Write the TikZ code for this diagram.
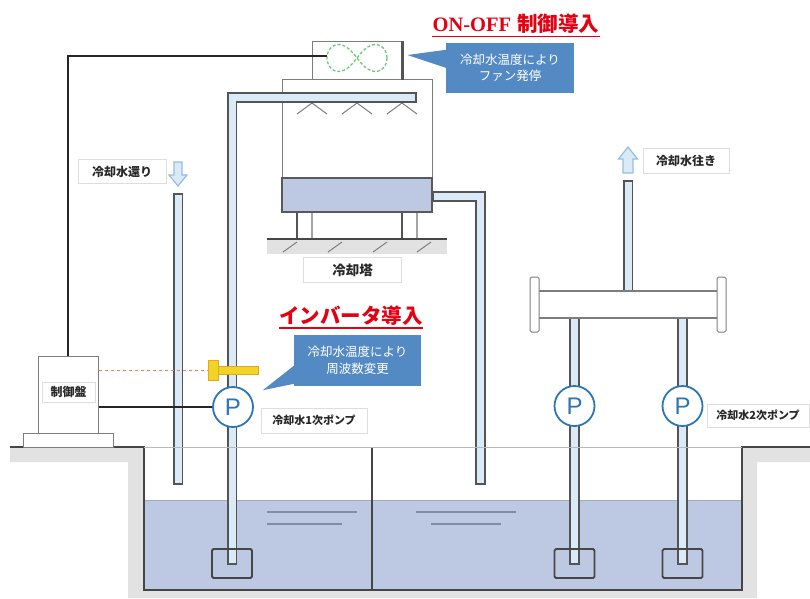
\documentclass[tikz,border=0pt]{standalone}
\usepackage{fontspec}
\usetikzlibrary{calc}

\newfontfamily\jp{Noto Sans CJK JP}
\newfontfamily\lat{Liberation Serif}
\newfontfamily\pfont{Liberation Sans}

\definecolor{pipeedge}{RGB}{84,84,84}
\definecolor{pipefill}{RGB}{218,234,246}
\definecolor{water}{RGB}{189,201,226}
\definecolor{ground}{RGB}{226,226,226}
\definecolor{wall}{RGB}{70,70,70}
\definecolor{linegray}{RGB}{125,125,125}
\definecolor{callout}{RGB}{84,138,196}
\definecolor{pumpblue}{RGB}{46,117,182}
\definecolor{titlered}{RGB}{228,0,18}
\definecolor{tagedge}{RGB}{222,222,222}
\definecolor{tagtext}{RGB}{40,40,40}
\definecolor{fangreen}{RGB}{110,200,125}
\definecolor{sensor}{RGB}{242,212,40}
\definecolor{sensoredge}{RGB}{232,168,20}
\definecolor{signal}{RGB}{238,130,90}
\definecolor{arrowedge}{RGB}{150,190,225}
\definecolor{ripple}{RGB}{128,140,165}

\tikzset{
  pipe/.style={draw=pipeedge, line width=10.5pt, line join=miter,
    postaction={draw=pipefill, line width=7pt, shorten <=1.6pt, shorten >=1.6pt}},
  strainer/.style={draw=wall, line width=1.8pt, rounded corners=1.5pt},
  pump/.style={circle, draw=pumpblue, fill=white, line width=1.8pt, minimum size=40pt,
    inner sep=0pt, text=pumpblue, font=\pfont\fontsize{24}{24}\selectfont},
  tag/.style={draw=tagedge, fill=white, line width=1pt, inner sep=0pt, text=tagtext,
    font=\jp\bfseries\fontsize{12}{14}\selectfont},
  note/.style={fill=callout, text=white, inner sep=0pt, align=center,
    font=\jp\fontsize{12.5}{16.5}\selectfont},
  title/.style={text=titlered, inner sep=0pt},
  outline/.style={draw=linegray, fill=white, line width=1pt},
  ctrl/.style={draw=black!85, line width=1.2pt},
  flow/.style={fill=pipefill, draw=arrowedge, line width=1.2pt, line join=miter},
}

\begin{document}
\begin{tikzpicture}[x=1pt, y=-1pt]
\useasboundingbox (0,0) rectangle (810,598);

% ground, tank and water
\fill[ground] (10,447) -- (144,447) -- (144,590) -- (742,590) -- (742,447) -- (810,447)
  -- (810,462) -- (757,462) -- (757,598) -- (128,598) -- (128,462) -- (10,462) -- cycle;
\fill[water] (144,500) rectangle (742,590);
\draw[water!85!black, line width=0.8pt] (144,500) -- (742,500);
\draw[wall, line width=2pt] (10,447) -- (144,447) -- (144,590) -- (742,590) -- (742,447) -- (810,447);
\draw[wall, line width=1.3pt] (372,447) -- (372,590);
\draw[ripple, line width=2pt] (267,512) -- (357,512) (267,524) -- (342,524);
\draw[ripple, line width=2pt] (416,512) -- (516,512) (431,524) -- (501,524);

% cooling tower
\draw[pipeedge, line width=1.5pt] (297,212) -- (297,239);
\draw[linegray!70, line width=1.2pt] (312,212) -- (312,239);
\draw[pipeedge, line width=2.5pt] (402,212) -- (402,239);
\draw[linegray!70, line width=1.2pt] (417,212) -- (417,239);
\fill[ground] (267,239) rectangle (447,254);
\draw[wall, line width=2pt] (267,239) -- (447,239);
\foreach \h in {283,328,373,417}
  \draw[linegray, line width=1pt] (\h,252) -- (\h+14,242);
\node[outline, minimum width=150pt, minimum height=133pt, inner sep=0pt] (tower) at (357,145.5) {};
\draw[fill=water, draw=wall!90, line width=1.5pt] (282,178) rectangle (432,212);
\foreach \n in {312,357,402}
  \draw[linegray, line width=1pt] (\n-15,114) -- (\n,103) -- (\n+15,114);
\node[outline, minimum width=90pt, minimum height=38pt, inner sep=0pt] (fanbox) at (357,60) {};
\draw[pipeedge, line width=2.5pt] (fanbox.north east) -- (fanbox.south east);
\draw[fangreen, line width=1.3pt, densely dashed]
  plot[domain=0:360, samples=90, smooth] ({357+30*cos(\x)/(1+pow(sin(\x),2))}, {58+38*sin(\x)*cos(\x)/(1+pow(sin(\x),2))});
\coordinate (fanL) at (327,56);

% pipes
\draw[pipe] (178,193) -- (178,485);
\draw[pipe] (432,196.5) -- (480.5,196.5) -- (480.5,485);
\draw[pipe] (232,565) -- (232,97.5) -- (417,97.5);
\draw[pipe] (628,180) -- (628,294);
\draw[pipe] (574.5,315) -- (574.5,565);
\draw[pipe] (682.5,315) -- (682.5,565);
\draw[gray!55, line width=0.8pt] (144,447) -- (742,447);

% strainers
\foreach \s in {232,574.5,682.5}
  \draw[strainer] (\s-20,549) rectangle (\s+20,578);

% header
\fill[white] (539,291) rectangle (717,318);
\draw[linegray, line width=1.3pt] (539,291) -- (717,291) (539,318) -- (717,318);
\draw[outline, rounded corners=1.5pt] (530,277) rectangle (539,332);
\draw[outline, rounded corners=1.5pt] (717,277) rectangle (726,332);

% flow arrows
\draw[flow] (174,162) -- (182,162) -- (182,175) -- (187,175) -- (178,186) -- (169,175) -- (174,175) -- cycle;
\draw[flow] (623,173) -- (633,173) -- (633,159) -- (637.5,159) -- (628,147) -- (618.5,159) -- (623,159) -- cycle;

% control panel
\node[outline, minimum width=60pt, minimum height=77pt, inner sep=0pt] (panel) at (68,394.5) {};
\draw[outline] (23,433) rectangle (113,447);
\node[tag, minimum width=53pt, minimum height=20pt] (panelname) at (68.5,392) {制御盤};

% pumps and sensor
\node[pump] (p1) at (233,407) {P};
\node[pump] (p2) at (574.5,406) {P};
\node[pump] (p3) at (682.5,406) {P};
\node[fill=sensor, draw=sensoredge, line width=1pt, minimum width=10pt, minimum height=20pt, inner sep=0pt] (sens) at (213,370) {};
\fill[sensor, draw=sensoredge, line width=1pt] (sens.east |- 0,366) rectangle (258,374);

% signal lines
\draw[ctrl] (panel.north) |- (fanL);
\draw[ctrl] (panel.east |- p1) -- (p1.west);
\draw[signal, line width=1pt, dashed] (panel.east |- sens) -- (sens.west);

% labels
\node[tag, minimum width=88pt, minimum height=24pt] (backlbl) at (122,171.5) {冷却水還り};
\node[tag, minimum width=86pt, minimum height=25pt] (outlbl) at (686,160.5) {冷却水往き};
\node[tag, minimum width=98pt, minimum height=25pt, font=\jp\bfseries\fontsize{13.5}{15}\selectfont] (towerlbl) at (352.5,270) {冷却塔};
\node[tag, minimum width=106pt, minimum height=25pt, font=\jp\bfseries\fontsize{11}{13}\selectfont] (p1lbl) at (314,420.5) {冷却水1次ポンプ};
\node[tag, minimum width=102pt, minimum height=23pt, font=\jp\bfseries\fontsize{11}{13}\selectfont] (p2lbl) at (758,415.5) {冷却水2次ポンプ};

% callouts
\node[note, minimum width=128pt, minimum height=50pt] (note1) at (510,68) {冷却水温度により\\ファン発停};
\fill[callout] ($(fanbox.east)+(5,-5)$) -- ($(note1.north west)+(0,7)$) -- ($(note1.north west)+(0,25)$) -- cycle;
\node[note, minimum width=127pt, minimum height=51pt] (note2) at (357.5,360.5) {冷却水温度により\\周波数変更};
\fill[callout] ($(p1.north east)+(15,-2)$) -- ($(note2.north west)+(0,31)$) -- ($(note2.north west)+(0,49)$) -- cycle;

% headings
\node[title, font=\fontsize{20.5}{22}\selectfont] (onoff) at (516,24) {{\lat\bfseries ON-OFF} {\jp\bfseries 制御導入}};
\draw[titlered, line width=1.6pt] ([yshift=-2.5pt]onoff.south west) -- ([yshift=-2.5pt]onoff.south east);
\node[title, font=\jp\bfseries\fontsize{20.5}{22}\selectfont] (inv) at (351,316) {インバータ導入};
\draw[titlered, line width=1.6pt] ([yshift=-2pt]inv.south west) -- ([yshift=-2pt]inv.south east);
\end{tikzpicture}
\end{document}
